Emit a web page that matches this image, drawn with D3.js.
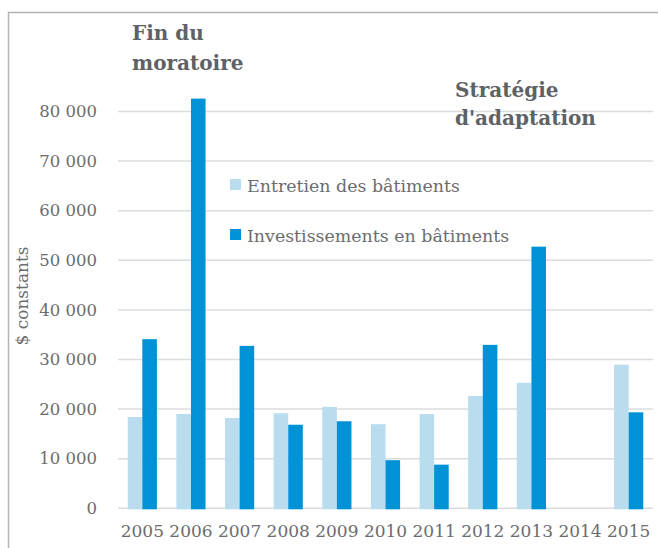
<!DOCTYPE html>
<html><head><meta charset="utf-8">
<script src="https://cdn.jsdelivr.net/npm/d3@7"></script>
<style>body{margin:0;background:#fff}svg{display:block}</style>
</head><body>
<script>
const years = ["2005","2006","2007","2008","2009","2010","2011","2012","2013","2014","2015"];
const entretien = [18400,19000,18200,19150,20450,16950,19000,22650,25300,null,28950];
const investissements = [34100,82600,32750,16850,17550,9700,8800,32950,52750,null,19350];
const seriesNames = ["Entretien des bâtiments","Investissements en bâtiments"];
const yTicks = [0,10000,20000,30000,40000,50000,60000,70000,80000];
const colors = ["#b9dcef","#0092d6"];

const W=658,H=548;
const svg=d3.select("body").append("svg").attr("width",W).attr("height",H);
const textCol="#6b6c6e", annCol="#5e6266";

// frame
svg.append("path").attr("d",`M8.5,${H} V12.5 H${W}`).attr("fill","none").attr("stroke","#b3b3b3").attr("stroke-width",1.5);

const x=d3.scaleBand().domain(years).range([118,653]).paddingInner(0.4).paddingOuter(0.2);
const xs=d3.scaleBand().domain([0,1]).range([0,x.bandwidth()]);
const y=d3.scaleLinear().domain([0,90000]).range([508.3,61.9]);

// gridlines
svg.append("g").selectAll("line").data(yTicks).join("line")
 .attr("x1",118).attr("x2",653).attr("y1",d=>y(d)).attr("y2",d=>y(d))
 .attr("stroke","#dcdcdc").attr("stroke-width",1.5);

// y axis
const yAxis=d3.axisLeft(y).tickValues(yTicks).tickSize(0).tickPadding(0)
 .tickFormat(d=>d3.format(",")(d).replace(/,/g," "));
const gy=svg.append("g").attr("transform","translate(97,0)").call(yAxis);
gy.select(".domain").remove();
gy.selectAll("text").attr("font-family","DejaVu Serif").attr("font-size",16.5).attr("fill",textCol);

// bars
const data=[entretien,investissements];
data.forEach((vals,si)=>{
  svg.append("g").selectAll("rect").data(years.map((yr,i)=>({yr,v:vals[i]})).filter(d=>d.v!=null)).join("rect")
   .attr("x",d=>x(d.yr)+xs(si)).attr("width",xs.bandwidth())
   .attr("y",d=>y(d.v)).attr("height",d=>y(0)-y(d.v)+1)
   .attr("fill",colors[si]);
});

// x axis
const xAxis=d3.axisBottom(x).tickSize(0).tickPadding(0);
const gx=svg.append("g").attr("transform","translate(0,525)").call(xAxis);
gx.select(".domain").remove();
gx.selectAll("text").attr("font-family","DejaVu Serif").attr("font-size",17).attr("fill",textCol);

// y label
svg.append("text").attr("transform","translate(28,296) rotate(-90)").attr("text-anchor","middle")
 .attr("font-family","DejaVu Serif").attr("font-size",17).attr("fill",textCol).text("$ constants");

// legend
seriesNames.forEach((n,i)=>{
  const ly=179+i*50;
  svg.append("rect").attr("x",230).attr("y",ly).attr("width",11).attr("height",11).attr("fill",colors[i]);
  svg.append("text").attr("x",247).attr("y",ly+13).attr("font-family","DejaVu Serif").attr("font-size",17.4)
   .attr("fill",textCol).text(n);
});

// annotations
const ann=[{x:132,y:40,t:"Fin du"},{x:132,y:70,t:"moratoire"},{x:455,y:97,t:"Stratégie"},{x:455,y:125,t:"d'adaptation"}];
svg.append("g").selectAll("text").data(ann).join("text").attr("x",d=>d.x).attr("y",d=>d.y)
 .attr("font-family","DejaVu Serif").attr("font-weight","bold").attr("font-size",20).attr("fill",annCol).text(d=>d.t);
</script>
</body></html>
